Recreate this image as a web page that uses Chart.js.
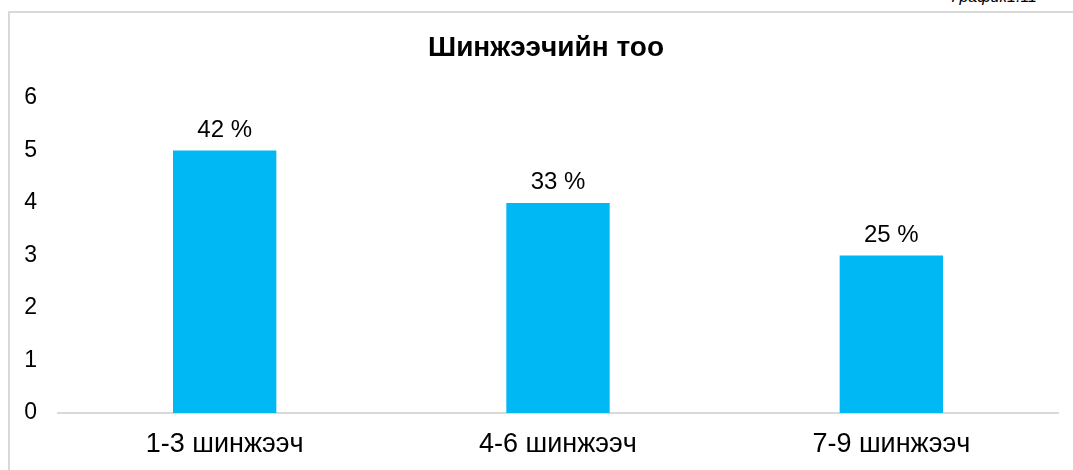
<!DOCTYPE html>
<html lang="mn">
<head>
    <meta charset="UTF-8" />
    <title>Шинжээчийн тоо</title>
    <script src="https://cdn.jsdelivr.net/npm/chart.js"></script>
    <style>
        html, body { margin: 0; padding: 0; width: 1073px; height: 470px; overflow: hidden; background: #fff; }
        #frame { position: absolute; left: 8px; top: 11px; width: 1100px; height: 500px; border: 2px solid #d9d9d9; box-sizing: border-box; }
        #note { position: absolute; right: 36px; top: -12px; font: italic 16px "Liberation Sans", Arial, sans-serif; color: #000; }
        #wrap { position: absolute; left: 0; top: 0; width: 1073px; height: 470px; }
    </style>
</head>
<body>
    <div id="frame"></div>
    <div id="note">График1.11</div>
    <div id="wrap"><canvas id="chart"></canvas></div>

    <script>
        const chartTitle = 'Шинжээчийн тоо';
        const categories = ['1-3 шинжээч', '4-6 шинжээч', '7-9 шинжээч'];
        const counts = [5, 4, 3];
        const shares = ['42 %', '33 %', '25 %'];
        const yTicks = [0, 1, 2, 3, 4, 5, 6];

        const font = '"Liberation Sans", Arial, sans-serif';

        // title is centred on the outer frame, not on the canvas
        const frameTitle = {
            id: 'frameTitle',
            afterDraw(chart) {
                const ctx = chart.ctx;
                ctx.save();
                ctx.font = 'bold 28px ' + font;
                ctx.fillStyle = '#000';
                ctx.textAlign = 'center';
                ctx.textBaseline = 'middle';
                ctx.fillText(chartTitle, 546, 48);
                ctx.restore();
            }
        };

        // draws the percent labels above the bars
        const shareLabels = {
            id: 'shareLabels',
            afterDatasetsDraw(chart) {
                const ctx = chart.ctx;
                const meta = chart.getDatasetMeta(0);
                ctx.save();
                ctx.font = '24px ' + font;
                ctx.fillStyle = '#000';
                ctx.textAlign = 'center';
                ctx.textBaseline = 'alphabetic';
                meta.data.forEach((bar, i) => {
                    ctx.fillText(shares[i], bar.x, bar.y - 14);
                });
                ctx.restore();
            }
        };

        new Chart(document.getElementById('chart'), {
            type: 'bar',
            data: {
                labels: categories,
                datasets: [{
                    data: counts,
                    backgroundColor: '#00B8F4',
                    barPercentage: 0.31,
                    categoryPercentage: 1.0
                }]
            },
            options: {
                responsive: true,
                maintainAspectRatio: false,
                animation: false,
                layout: { padding: { left: 0, right: 15, top: 98, bottom: 12 } },
                plugins: {
                    legend: { display: false },
                    tooltip: { enabled: false },
                    title: { display: false }
                },
                scales: {
                    x: {
                        afterFit: (s) => { s.height = 45; },
                        grid: { display: false, drawTicks: false },
                        border: { display: true, color: '#d9d9d9', width: 2 },
                        ticks: { color: '#000', font: { family: font, size: 27 }, padding: 15 }
                    },
                    y: {
                        min: 0,
                        max: 6,
                        afterBuildTicks: (s) => { s.ticks = yTicks.map(v => ({ value: v })); },
                        afterFit: (s) => { s.width = 58; },
                        grid: { display: false, drawTicks: false },
                        border: { display: false },
                        ticks: { color: '#000', font: { family: font, size: 23 }, padding: 21 }
                    }
                }
            },
            plugins: [shareLabels, frameTitle]
        });
    </script>
</body>
</html>
